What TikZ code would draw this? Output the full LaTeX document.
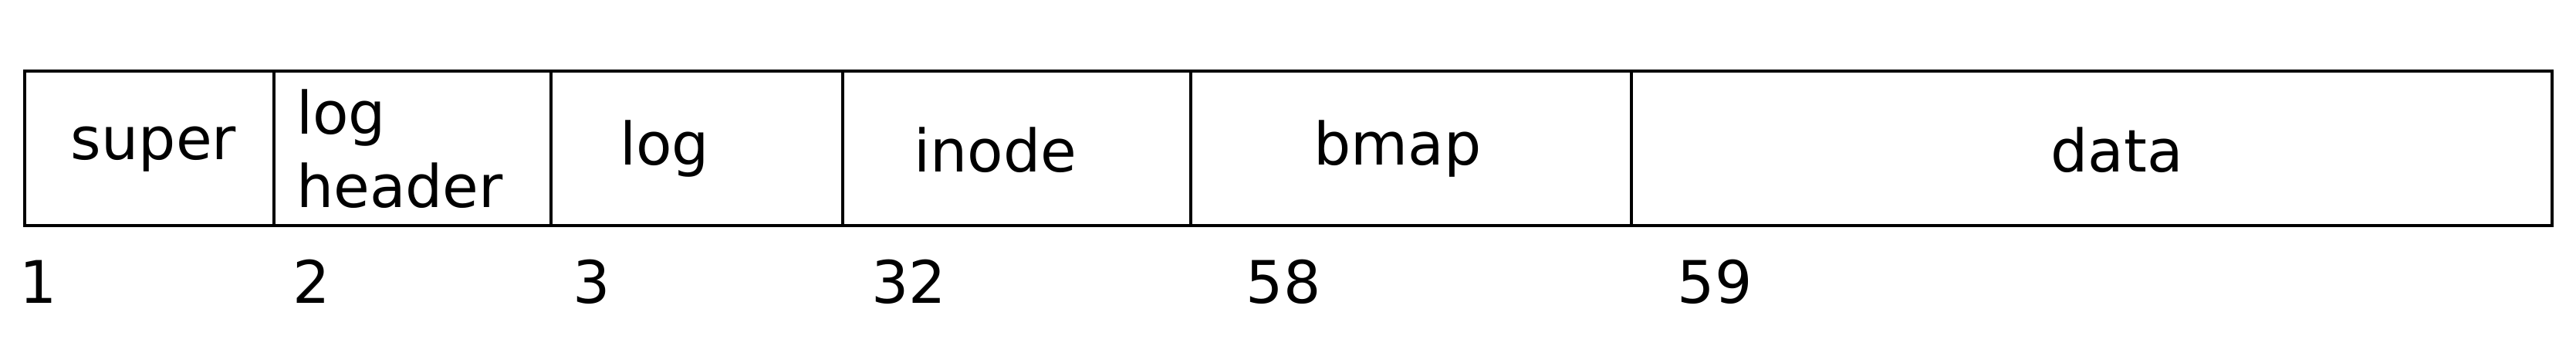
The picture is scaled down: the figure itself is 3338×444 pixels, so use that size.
\documentclass[tikz,border=0pt]{standalone}
\usepackage{fontspec}
\setmainfont{DejaVu Sans}
\begin{document}
\begin{tikzpicture}[x=1pt,y=-1pt,
  cell/.style={draw=black,line width=4.8pt,minimum height=200pt,inner sep=0pt,outer sep=0pt},
  lbl/.style={inner sep=0pt,font=\fontsize{76}{95}\selectfont},
  num/.style={inner sep=0pt,anchor=base,font=\fontsize{76}{95}\selectfont}]
\useasboundingbox (0,0) rectangle (3338,444);
\fill[white] (0,0) rectangle (3338,444);
% cells
\node[cell,minimum width=323pt] (c1) at (193.5,192) {};
\node[cell,minimum width=359pt] (c2) at (534.5,192) {};
\node[cell,minimum width=378pt] (c3) at (903,192) {};
\node[cell,minimum width=451pt] (c4) at (1317.5,192) {};
\node[cell,minimum width=571pt] (c5) at (1828.5,192) {};
\node[cell,minimum width=1193pt] (c6) at (2710.5,192) {};
% labels
\node[lbl,anchor=base] (t1) at (199,206) {super};
\node[lbl,anchor=west,align=left] (t2) at (384,193) {log\\header};
\node[lbl,anchor=base] (t3) at (861,213) {log};
\node[lbl,anchor=base] (t4) at (1290,222) {inode};
\node[lbl,anchor=base] (t5) at (1811,213) {bmap};
\node[lbl,anchor=base] (t6) at (2743,222) {data};
% numbers
\node[num] (n1) at (50,392) {1};
\node[num] (n2) at (404,392) {2};
\node[num] (n3) at (767,392) {3};
\node[num] (n4) at (1178,392) {32};
\node[num] (n5) at (1663,392) {58};
\node[num] (n6) at (2222,392) {59};
\end{tikzpicture}
\end{document}
